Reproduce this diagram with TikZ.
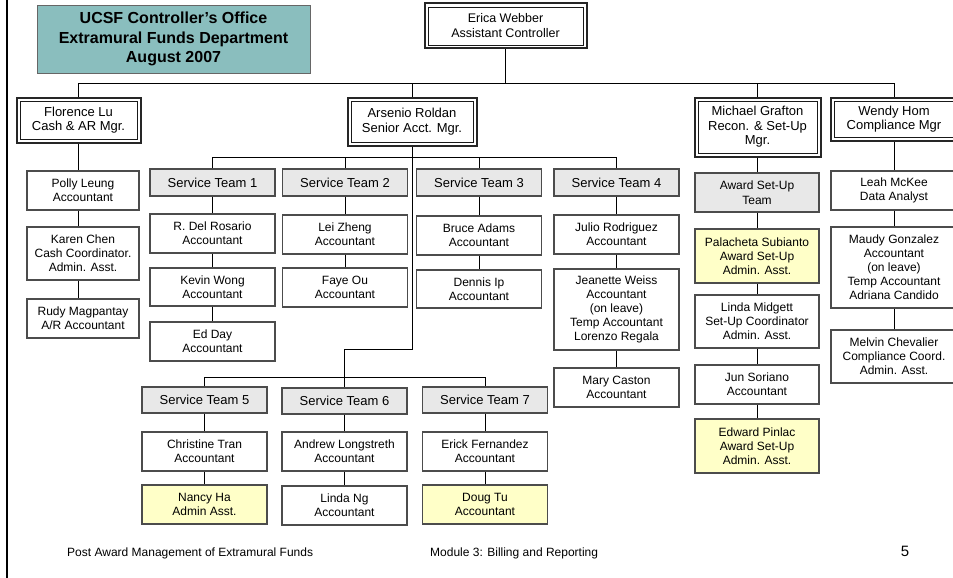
\documentclass[tikz,border=0pt]{standalone}
\usepackage{fontspec}
\setmainfont{Liberation Sans}
\definecolor{titleteal}{RGB}{138,190,190}
\definecolor{teamgray}{RGB}{232,232,232}
\definecolor{paleyellow}{RGB}{255,255,200}
\tikzset{
  box/.style={draw=black!70, line width=1.1pt, fill=white, align=center, inner sep=0pt,
    minimum width=125pt, font=\fontsize{12}{14}\selectfont},
  teambox/.style={box, fill=teamgray, font=\fontsize{13}{15}\selectfont},
  yelbox/.style={box, fill=paleyellow},
  mgrbox/.style={box, draw=black!85, line width=2pt,
    font=\fontsize{13}{14.5}\selectfont,
    path picture={\draw[black!90, line width=0.9pt]
      ([shift={(3.5pt,-3.5pt)}]path picture bounding box.north west) rectangle
      ([shift={(-3.5pt,3.5pt)}]path picture bounding box.south east);}},
  conn/.style={draw=black, line width=0.8pt},
  foot/.style={anchor=west, inner sep=0pt, font=\fontsize{12}{14}\selectfont},
}
\begin{document}
\begin{tikzpicture}[x=1pt,y=-1pt]
\useasboundingbox (0,0) rectangle (953,578);
\fill[white] (0,0) rectangle (953,578);
\draw[line width=2pt] (7,0) -- (7,578);

% title
\node[draw=black!60, line width=0.8pt, fill=titleteal, minimum width=273pt, minimum height=68pt,
  inner sep=0pt, align=center, font=\bfseries\fontsize{16}{19.7}\selectfont] (title) at (173.5,39)
  {UCSF Controller’s Office\\Extramural Funds Department\\August 2007};

% top managers
\node[mgrbox, minimum width=162pt, minimum height=45pt, font=\fontsize{12.5}{15}\selectfont] (erica) at (505.5,26) {Erica Webber\\Assistant Controller};
\node[mgrbox, minimum width=124pt, minimum height=45pt] (flo) at (78.5,120) {Florence Lu\\Cash \& AR Mgr.};
\node[mgrbox, minimum width=129pt, minimum height=48pt] (ars) at (412,121.5) {Arsenio Roldan\\Senior Acct. Mgr.};
\node[mgrbox, minimum width=126pt, minimum height=59pt] (mic) at (757.5,127) {Michael Grafton\\Recon. \& Set-Up\\Mgr.};
\node[mgrbox, minimum width=127pt, minimum height=43pt] (wen) at (894,119) {Wendy Hom\\Compliance Mgr};

\coordinate (topbar) at (0,83);
\draw[conn] (erica.south) -- (erica.south |- topbar);
\draw[conn] (flo.north) |- (wen.north |- topbar) -- (wen.north);
\draw[conn] (ars.north) -- (ars.north |- topbar);
\draw[conn] (mic.north) -- (mic.north |- topbar);

% Florence column
\node[box, minimum width=112pt, minimum height=39pt] (polly) at (83,190.5) {Polly Leung\\Accountant};
\node[box, minimum width=112pt, minimum height=53pt] (karen) at (83,253.5) {Karen Chen\\Cash Coordinator.\\Admin. Asst.};
\node[box, minimum width=112pt, minimum height=39pt] (rudy) at (83,318.5) {Rudy Magpantay\\A/R Accountant};
\draw[conn] (flo.south) -- (flo.south |- polly.north);
\draw[conn] (flo.south |- polly.south) -- (flo.south |- karen.north);
\draw[conn] (flo.south |- karen.south) -- (flo.south |- rudy.north);

% service teams 1-4
\node[teambox, minimum height=27pt] (st1) at (212.5,182.5) {Service Team 1};
\node[teambox, minimum height=27pt] (st2) at (345,182.5) {Service Team 2};
\node[teambox, minimum height=27pt] (st3) at (479,182.5) {Service Team 3};
\node[teambox, minimum height=27pt] (st4) at (616.5,182.5) {Service Team 4};
\coordinate (bar1) at (0,157);
\draw[conn] (st1.north) |- (st4.north |- bar1) -- (st4.north);
\draw[conn] (st2.north) -- (st2.north |- bar1);
\draw[conn] (st3.north) -- (st3.north |- bar1);

\node[box, minimum height=39pt] (rdr) at (212.5,233.5) {R. Del Rosario\\Accountant};
\node[box, minimum height=38pt] (kev) at (212.5,287) {Kevin Wong\\Accountant};
\node[box, minimum height=39pt] (ed) at (212.5,341.5) {Ed Day\\Accountant};
\draw[conn] (st1) -- (rdr) -- (kev) -- (ed);

\node[box, minimum height=39pt] (lei) at (345,234.5) {Lei Zheng\\Accountant};
\node[box, minimum height=39pt] (faye) at (345,287.5) {Faye Ou\\Accountant};
\draw[conn] (st2) -- (lei) -- (faye);

\node[box, minimum height=39pt] (bruce) at (479,235.5) {Bruce Adams\\Accountant};
\node[box, minimum height=38pt] (dennis) at (479,289) {Dennis Ip\\Accountant};
\draw[conn] (st3) -- (bruce) -- (dennis);

\node[box, minimum height=39pt] (julio) at (616.5,234.5) {Julio Rodriguez\\Accountant};
\node[box, minimum height=81pt] (jean) at (616.5,309.5) {Jeanette Weiss\\Accountant\\(on leave)\\Temp Accountant\\Lorenzo Regala};
\node[box, minimum height=39pt] (mary) at (616.5,387.5) {Mary Caston\\Accountant};
\draw[conn] (st4) -- (julio) -- (jean) -- (mary);

% service teams 5-7
\node[teambox, minimum height=26pt] (st5) at (204.5,400) {Service Team 5};
\node[teambox, minimum height=26pt] (st6) at (344.5,401) {Service Team 6};
\node[teambox, minimum height=26pt] (st7) at (485,400) {Service Team 7};
\coordinate (jog) at (344.5,349);
\coordinate (bar2) at (0,377);
\draw[conn] (ars.south) |- (jog) -- (st6.north);
\draw[conn] (st5.north) |- (st7.north |- bar2) -- (st7.north);

\node[box, minimum height=39pt] (chr) at (204.5,451.5) {Christine Tran\\Accountant};
\node[yelbox, minimum height=39pt] (nancy) at (204.5,504.5) {Nancy Ha\\Admin Asst.};
\draw[conn] (st5) -- (chr) -- (nancy);

\node[box, minimum height=39pt] (andrew) at (344.5,451.5) {Andrew Longstreth\\Accountant};
\node[box, minimum height=39pt] (lindang) at (344.5,505.5) {Linda Ng\\Accountant};
\draw[conn] (st6) -- (andrew) -- (lindang);

\node[box, minimum height=39pt] (erick) at (485,451.5) {Erick Fernandez\\Accountant};
\node[yelbox, minimum height=39pt] (doug) at (485,504.5) {Doug Tu\\Accountant};
\draw[conn] (st7) -- (erick) -- (doug);

% Michael column
\node[teambox, minimum width=124pt, minimum height=39pt, font=\fontsize{12}{14.5}\selectfont] (award) at (757,192.5) {Award Set-Up\\Team};
\node[yelbox, minimum width=124pt, minimum height=54pt] (pala) at (757,256) {Palacheta Subianto\\Award Set-Up\\Admin. Asst.};
\node[box, minimum width=124pt, minimum height=53pt] (lindam) at (757,321.5) {Linda Midgett\\Set-Up Coordinator\\Admin. Asst.};
\node[box, minimum width=124pt, minimum height=39pt] (jun) at (757,384.5) {Jun Soriano\\Accountant};
\node[yelbox, minimum width=124pt, minimum height=54pt] (edw) at (757,446) {Edward Pinlac\\Award Set-Up\\Admin. Asst.};
\draw[conn] (mic.south) -- (mic.south |- award.north);
\draw[conn] (award) -- (pala) -- (lindam) -- (jun) -- (edw);

% Wendy column
\node[box, minimum width=126pt, minimum height=39pt] (leah) at (894,190.5) {Leah McKee\\Data Analyst};
\node[box, minimum width=126pt, minimum height=81pt] (maudy) at (894,267.5) {Maudy Gonzalez\\Accountant\\(on leave)\\Temp Accountant\\Adriana Candido};
\node[box, minimum width=126pt, minimum height=53pt] (melvin) at (894,356.5) {Melvin Chevalier\\Compliance Coord.\\Admin. Asst.};
\draw[conn] (wen) -- (leah) -- (maudy) -- (melvin);

% footer
\node[foot] (f1) at (67,553) {Post Award Management of Extramural Funds};
\node[foot] (f2) at (430,553) {Module 3: Billing and Reporting};
\node[inner sep=0pt, font=\fontsize{15}{17}\selectfont] (pg) at (905,551) {5};
\end{tikzpicture}
\end{document}
